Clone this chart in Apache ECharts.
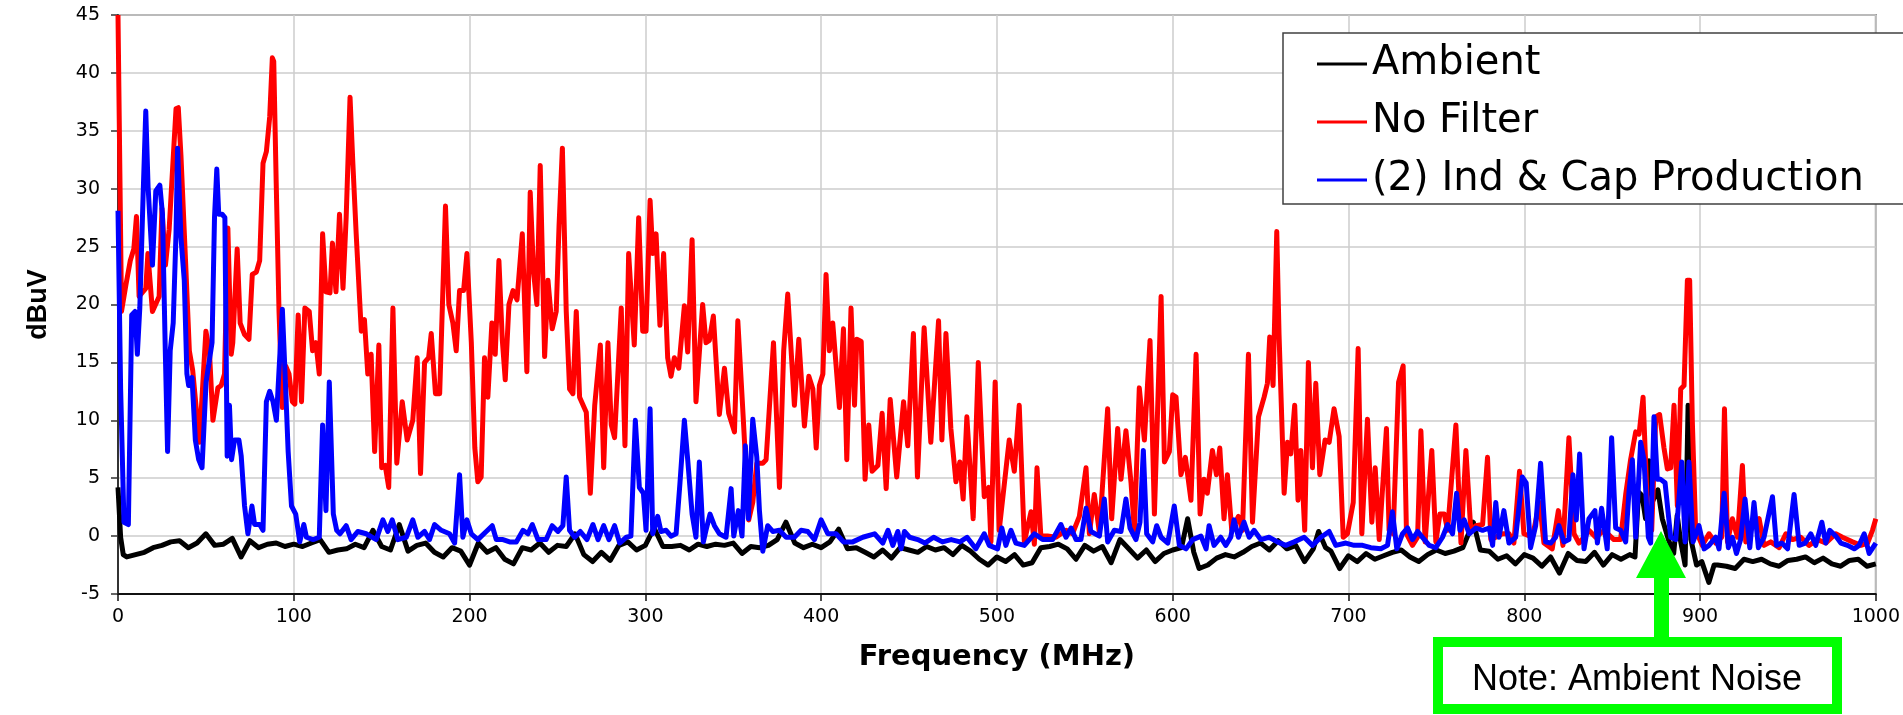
<!DOCTYPE html>
<html>
<head>
<meta charset="utf-8">
<title>Radiated emissions scan</title>
<script src="https://cdn.jsdelivr.net/npm/echarts/dist/echarts.min.js"></script>
<style>
	html, body { margin:0; padding:0; background:#ffffff; }
	#chart { width:1903px; height:715px; }
</style>
</head>
<body>
<div id="chart"></div>
<script>
// legend order = draw order (last one ends up on top)
var seriesNames = ['Ambient', 'No Filter', '(2) Ind & Cap Production'];
var seriesColors = ['#000000', '#ff0000', '#0000ff'];

// axis ranges [min, max, step]
var freqAxis = [0, 1000, 100];
var levelAxis = [-5, 45, 5];

// [MHz, dBuV]
var ambient = [
	[0,4.2],[1.5,-0.1],[3,-1.6],[5,-1.8],[10,-1.6],[15,-1.4],[20,-1.0],[25,-0.8],[30,-0.5],[35,-0.4],
	[40,-1.0],[45,-0.6],[50,0.2],[55,-0.8],[60,-0.7],[65,-0.2],[70,-1.8],[75,-0.4],[80,-1.0],[85,-0.7],
	[90,-0.6],[95,-0.9],[100,-0.7],[105,-0.9],[110,-0.6],[115,-0.3],[120,-1.4],[125,-1.2],[130,-1.1],[135,-0.7],
	[140,-1.0],[145,0.5],[150,-0.9],[155,-1.2],[160,1.0],[165,-1.3],[170,-0.8],[175,-0.6],[180,-1.4],[185,-1.8],
	[190,-1.0],[195,-1.3],[200,-2.5],[205,-0.6],[210,-1.4],[215,-1.0],[220,-2.0],[225,-2.4],[230,-1.0],[235,-1.2],
	[240,-0.6],[245,-1.4],[250,-0.8],[255,-0.9],[260,0.2],[265,-1.6],[270,-2.2],[275,-1.4],[280,-2.1],[285,-0.8],
	[290,-0.5],[295,-1.2],[300,-0.8],[305,0.7],[310,-0.9],[315,-0.9],[320,-0.8],[325,-1.2],[330,-0.7],[335,-0.9],
	[340,-0.7],[345,-0.8],[350,-0.6],[355,-1.5],[360,-0.9],[365,-1.0],[370,-0.8],[375,-0.3],[380,1.2],[385,-0.6],
	[390,-1.0],[395,-0.7],[400,-1.0],[405,-0.5],[410,0.6],[415,-1.1],[420,-1.0],[425,-1.4],[430,-1.8],[435,-1.2],
	[440,-1.9],[445,-1.0],[450,-1.2],[455,-1.4],[460,-0.9],[465,-1.2],[470,-1.0],[475,-1.6],[480,-0.8],[485,-1.3],
	[490,-2.0],[495,-2.5],[500,-1.8],[505,-2.2],[510,-1.6],[515,-2.5],[520,-2.3],[525,-1.0],[530,-0.9],[535,-0.7],
	[540,-1.1],[545,-2.0],[550,-0.8],[555,-1.3],[560,-0.9],[565,-2.3],[570,-0.3],[575,-1.1],[580,-1.9],[585,-1.2],
	[590,-2.2],[595,-1.5],[600,-1.2],[605,-1.0],[608.5,1.5],[612,-1.4],[615,-2.8],[620,-2.5],[625,-1.9],[630,-1.6],
	[635,-1.8],[640,-1.4],[645,-0.9],[650,-0.6],[655,-1.2],[660,-0.4],[665,-1.1],[670,-0.8],[675,-2.2],[680,-1.1],
	[683,0.4],[687,-1.0],[690,-1.3],[695,-2.8],[700,-1.7],[705,-2.2],[710,-1.5],[715,-2.0],[720,-1.7],[725,-1.4],
	[730,-1.2],[735,-1.8],[740,-2.2],[745,-1.6],[750,-1.2],[755,-1.5],[760,-1.3],[765,-1.0],[771,1.2],[775,-1.2],
	[780,-1.3],[785,-2.0],[790,-1.7],[795,-2.4],[800,-1.6],[805,-1.9],[810,-2.6],[815,-1.8],[820,-3.2],[825,-1.5],
	[830,-2.1],[835,-2.2],[840,-1.4],[845,-2.5],[850,-1.6],[855,-2.0],[860,-1.6],[863,-1.8],[865,3.8],[867,3.5],
	[869,1.5],[871,6.5],[873,3.0],[876,4.0],[878.5,1.5],[882,-0.3],[885,-1.5],[887,1.8],[889,-0.5],[891.5,-2.5],
	[893.2,11.3],[894.8,-0.3],[898,-2.5],[901,-2.2],[905,-4.0],[908,-2.5],[910,-2.5],[915,-2.6],[920,-2.8],[925,-2.0],
	[930,-2.2],[935,-2.0],[940,-2.4],[945,-2.6],[950,-2.1],[955,-2.0],[960,-1.8],[965,-2.3],[970,-1.9],[975,-2.4],
	[980,-2.6],[985,-2.1],[990,-2.0],[995,-2.6],[1000,-2.4]
];

var noFilter = [
	[0,45],[2,19.4],[4.5,21.7],[7,23.8],[9,24.8],[10.5,27.6],[12,20.7],[15.8,21.4],[17,24.4],[19.6,19.4],
	[23.4,20.7],[25,28.3],[27,23.4],[29.1,26.5],[33,36.9],[34.3,37],[35.8,32.9],[38.7,22.8],[40.6,16],[42.5,14.3],
	[46.3,8.1],[50,17.7],[52,16],[54,10],[56.8,12.8],[58.7,13],[60.6,14],[62.5,26.6],[64.4,15.7],[65.3,16.7],
	[67.8,24.8],[69.5,18.4],[72,17.4],[74.5,17],[76.4,22.6],[78.7,22.8],[80.6,23.8],[82.5,32.2],[84.4,33.2],[86.3,36.2],
	[87.8,41.3],[88.6,41],[90,30.5],[91.6,19.4],[93.5,11.1],[95.4,14.7],[97.3,14],[99.2,11.6],[100.6,11.4],[102.5,19.1],
	[104.4,11.6],[106.3,19.7],[108.8,19.4],[110.7,16],[112.6,16.7],[114.5,14],[116.4,26.1],[118.3,21.1],[120.6,21],[122,25.3],
	[124,21.1],[126,27.8],[128,21.4],[129.8,27.5],[132,37.9],[133.6,32.2],[135.5,26.1],[138.4,17.7],[140.2,18.7],[142.1,14],
	[144,15.7],[146,7.3],[148.4,16.5],[150,5.9],[152,6.1],[154,4.2],[156.4,19.7],[158.6,6.3],[161.7,11.6],[164.5,8.3],
	[167.7,10],[170.2,15.4],[172.1,5.4],[174.4,15],[176.7,15.4],[178.2,17.5],[180.6,12.3],[183,12.3],[186.3,28.5],[188.2,20],
	[190.5,18.4],[192.4,16],[194.3,21.2],[196.6,21.2],[198.5,24.4],[201,16.7],[203,7.6],[204.7,4.7],[206.6,5.1],[208.5,15.4],
	[210.4,12],[212.7,18.4],[214.6,15.7],[216.7,23.8],[218.6,17],[220.3,13.5],[222.4,20],[224.7,21.2],[227,20.4],[230,26.1],
	[232.6,14.2],[234.5,29.7],[236.4,22.8],[238.3,20],[240.2,32],[242.7,15.5],[244.6,22.1],[247,17.9],[249.3,19.4],[250.9,26.8],
	[252.8,33.5],[255,19.4],[256.9,12.7],[258.8,12.3],[260.7,19.4],[262.6,12],[265.5,11],[266.4,10.7],[268.7,3.7],[271.2,11.3],
	[274.4,16.5],[276.3,5.9],[278.7,16.7],[280.6,9.6],[282.5,8.5],[286.3,19.7],[288.4,7.8],[290.5,24.4],[293.7,16.5],[296.2,27.5],
	[298.5,17.7],[300.4,17.7],[302.7,29],[304.2,24.4],[306.1,26.1],[308.3,18.2],[310.4,24.4],[312.7,15.4],[314.6,13.8],[316.5,15.4],
	[319,14.5],[322.2,19.9],[324.1,15.9],[326.6,25.6],[328.8,11.6],[332.6,20],[334.5,16.7],[336.4,16.9],[338.7,19],[342.1,10.5],
	[345,14.5],[347.4,10.6],[350.7,9],[352.6,18.6],[355.4,11],[358.8,1.4],[361.1,2.9],[363.4,6.3],[366.8,6.3],[368.7,6.6],
	[372.9,16.7],[376.3,4.2],[378.7,16],[381,20.9],[384.8,11.3],[387.3,17],[390.5,9.5],[393,13.8],[395.3,12.7],[397.2,7.6],
	[399,13],[401,14],[402.8,22.6],[404.7,16],[406.6,18.4],[410.4,11.1],[412.7,17.9],[414.6,6.6],[417,19.7],[419,11.3],
	[420.3,17],[422.8,16.8],[425,4.9],[427.1,9.6],[429,5.6],[432.3,6.1],[434.7,10.6],[437,4.1],[439.3,11.8],[443,5.1],
	[446.9,11.6],[449.3,7.8],[452.5,17.5],[454.8,5.1],[458.6,18],[462.4,8.1],[466.8,18.6],[468.7,8.3],[471,17.5],[473.8,9.3],
	[476.7,4.7],[478.9,6.4],[480.8,3.2],[482.9,10.3],[486.5,1.5],[489.4,15],[492.8,3.4],[495.3,4.2],[496.6,-0.5],[499,13.3],
	[501.3,0.5],[507,8.3],[509.9,5.6],[512.7,11.3],[515.6,-0.5],[519.4,2.1],[521.3,-0.7],[522.8,5.9],[525,0],[528.8,0],
	[533.6,-0.1],[539.3,0.5],[543,0.2],[546.9,1.7],[550.7,5.9],[552.6,0.2],[555.4,3.6],[558.3,0.3],[563,11],[565.3,1.5],
	[568.7,9.3],[570.6,4.9],[573.4,9.1],[576.3,4.6],[578.2,0.5],[581,12.8],[583.9,8.3],[587.1,16.9],[589.6,1.9],[593.4,20.7],
	[595.3,6.4],[598.1,7.3],[600,12.2],[601.9,12],[604.7,5.3],[607.2,6.8],[610.4,3.1],[613.3,15.7],[615.6,1.9],[617.8,4.9],
	[619.7,3.7],[622.6,7.4],[624.9,5.3],[626.8,7.6],[629.2,1.5],[631.1,5.3],[633.6,0.5],[637.4,1.7],[639.7,0.5],[643.1,15.7],
	[645.4,1.2],[648.8,10.3],[652,12],[653.9,13.2],[655.2,17.2],[657.1,13],[659.2,26.3],[660.5,17.4],[663.4,3.7],[665.3,8.1],
	[667.2,7.1],[669.4,11.3],[671.3,3.1],[672.9,7.4],[675.1,0.5],[677.2,15],[679.5,5.9],[681.4,13.2],[683.7,5.3],[686.7,8.3],
	[689,8.1],[691.8,11],[694.7,8.6],[697,-0.1],[699.4,0.2],[702.7,2.9],[705.5,16.2],[707.6,0.2],[710.8,10.1],[713.3,1.2],
	[715.2,5.9],[717.5,-0.3],[721.6,9.3],[723.1,0.5],[725.4,0.2],[728.5,13.3],[731.1,14.7],[733,0.2],[736.4,-0.8],[739.3,-0.1],
	[741.2,9.1],[743.6,-0.5],[747.4,7.4],[749.7,-0.5],[752,1.9],[754.5,1.9],[756.4,0.5],[761.1,9.6],[764,-0.6],[766.8,7.4],
	[769.6,0.5],[772.5,0.9],[776.3,1.0],[779.1,6.8],[781,-0.3],[783.7,-0.1],[787.5,0.2],[791.3,0.2],[794.1,-0.6],[797.3,5.6],
	[799.8,0.2],[804.6,-0.1],[808.7,2.9],[811.2,-0.6],[815.9,-1.1],[819.4,2.2],[822,-0.8],[825.4,8.5],[828.3,0.2],[831.1,-0.6],
	[834,-0.1],[836.8,0.5],[840.6,-0.1],[845.4,0.5],[851,-0.3],[854.8,-0.3],[857.7,3.6],[860.5,6.6],[863.4,9],[865.3,8.8],
	[867.6,12],[870,2.6],[872.5,0.5],[874.8,10.3],[877,10.5],[879.5,7.6],[881.4,5.8],[883.3,5.9],[885.2,11.3],[887.1,2.6],
	[889,12.7],[890.9,13],[892.8,22.1],[894.1,22.1],[895.6,10],[897.5,0.5],[901.3,-0.8],[905.1,0.2],[908.9,-0.6],[912.3,-0.1],
	[913.9,11],[915.6,-0.5],[918.4,1.5],[921.3,-0.1],[924.1,6.1],[926,-0.5],[929.8,0.9],[933.6,1.5],[936.4,-0.8],[940.2,-0.5],
	[945,-1],[948.8,0.2],[952.6,-0.3],[957.3,-0.1],[962,-0.8],[966.8,-0.3],[971.5,-0.6],[977.2,0.2],[981,-0.1],[986.7,-0.5],
	[991.5,-0.8],[995.3,-0.6],[998.1,0.5],[1000,1.5]
];

var indCap = [
	[0,28.1],[1.5,12.7],[3.4,1.2],[5.9,1],[7.8,19.1],[9.7,19.4],[11,15.7],[12.4,19.7],[14.3,29.5],[15.8,36.7],
	[17.1,30.2],[19.6,23.4],[21.5,29.8],[23.8,30.3],[25.3,27.8],[26.9,16],[28.2,7.3],[29.7,16],[31.4,18.4],[33,26.1],
	[33.9,33.5],[35.8,25.8],[37.7,22.1],[39.2,14],[40.2,13],[42.1,13.7],[44,8.3],[45.9,6.6],[47.8,5.9],[50.1,13.3],
	[53.5,16.7],[54.9,27.5],[56.2,31.7],[57.3,27.8],[59.2,27.8],[60.8,27.5],[62.1,6.9],[63.4,11.3],[64.6,6.6],[66.3,8.3],
	[68.8,8.3],[70.1,6.9],[72,2.6],[73.9,0.2],[76.2,2.6],[77.7,1],[80.6,1],[82.5,0.5],[84.4,11.6],[86.3,12.5],
	[88.2,11.6],[90.1,10],[91.6,14.3],[93.5,19.6],[95.4,12.7],[96.8,7.3],[98.7,2.6],[101.1,1.9],[103.4,-0.5],[105.7,1],
	[107.2,-0.1],[111,-0.3],[114.5,-0.1],[116.4,9.6],[118.3,2.2],[120.2,13.3],[122.5,1.9],[124.4,0.5],[126.3,0.2],[129.8,0.9],
	[132.6,-0.3],[136.4,0.4],[141.2,0.2],[146.9,-0.3],[150.7,1.4],[153.5,0.4],[156,1.4],[159.2,-0.3],[164,-0.1],[167.7,1.4],
	[170.6,-0.1],[174.4,0.4],[177.2,-0.3],[180.1,1],[183.9,0.5],[188.6,0.2],[191.5,-0.6],[194.3,5.3],[196.2,-0.1],[198.5,1.4],
	[201,0.2],[204.7,-0.3],[209.5,0.4],[212.9,0.9],[215.2,-0.3],[219,-0.3],[222.8,-0.5],[226.6,-0.5],[230.4,0.5],[233.2,0.2],
	[235.7,1],[238.9,-0.3],[243.6,-0.3],[247,0.9],[250.3,0.4],[253.1,0.9],[255,5.1],[256.9,0.5],[259.8,-0.1],[263,0.4],
	[266.8,-0.3],[270.2,1],[273.1,-0.3],[276.3,0.9],[279.3,-0.3],[282.5,0.9],[285.4,-0.6],[289.2,-0.1],[291.8,0],[294.3,10],
	[296.6,4.2],[298.9,3.7],[300.4,0.5],[302.7,11],[304.2,0.2],[307,1.7],[308.9,0.4],[311.8,0.5],[314.6,0],[317.5,0.2],
	[319.7,4.6],[322.2,10],[324.1,6.6],[326.6,1.9],[328.8,-0.1],[330.7,6.4],[333,-0.5],[334.5,0.5],[336.8,1.9],[339.3,0.9],
	[342.1,0.2],[345.9,-0.1],[348.8,4.1],[350.3,0],[352.9,2.2],[355,0],[356.9,7.8],[358.6,1.5],[361.1,10.1],[363.4,6.8],
	[364.9,2.2],[366.8,-1.3],[369.6,0.9],[372.5,0.4],[376.3,0.5],[380.1,-0.1],[384.8,-0.1],[388.6,0.5],[392.4,0.4],[396.2,-0.3],
	[400,1.4],[403.8,0.2],[408.5,0.2],[412.7,-0.5],[418,-0.5],[423.7,-0.1],[430.4,0.2],[435.1,-0.6],[438,0.5],[440.8,-0.8],
	[443.6,0.4],[445.5,-1.1],[447.4,0.4],[450.3,-0.1],[455,-0.3],[459,-0.6],[464,-0.1],[469,-0.5],[474,-0.3],[479,-0.5],
	[483,-0.1],[488,-1.1],[492.8,0.2],[495.6,-0.8],[500.4,-1.1],[502.8,0.7],[505.1,-0.8],[508,0.5],[510.8,-0.6],[515.6,-0.8],
	[521.3,0.2],[526,-0.3],[531.7,-0.3],[536.4,1],[539.3,-0.1],[542.2,0.7],[545,-0.3],[547.8,-0.3],[550.7,2.4],[553.5,0.4],
	[558.3,0],[561.1,3.2],[563,-0.5],[566.8,0.5],[570.6,0.4],[573.4,3.2],[575.7,0.7],[579.1,-0.3],[581.4,1.2],[583.3,7.4],
	[585.2,0.2],[588.6,-0.5],[590.9,0.9],[593.4,-0.1],[597.2,-0.6],[600.9,2.6],[603.8,-0.8],[607.6,-1.1],[611.4,-0.3],[616.1,0],
	[619,-1.1],[620.7,0.9],[623.5,-0.8],[627.3,-0.1],[630.2,-0.8],[633,-0.1],[634.9,1.4],[637.4,-0.1],[640.6,1.2],[643.5,-0.1],
	[646.3,0.5],[650.1,-0.3],[654.8,-0.1],[659.6,-0.5],[664.3,-0.8],[669.1,-0.5],[674.8,-0.1],[679.5,-0.8],[684.3,-0.1],[689,0.4],
	[692.8,-0.8],[698.5,-0.6],[703.2,-0.8],[708,-0.8],[712.7,-1],[718.4,-1.1],[722.2,-0.8],[725,2.1],[727.5,-1.1],[730.7,0.2],
	[733.6,0.7],[736.4,-0.3],[739.3,0.4],[742.1,-0.1],[745.9,-0.8],[749.7,-1],[753.5,-0.1],[756.4,1],[759.2,0.2],[761.5,3.7],
	[763.4,0.5],[765.8,1.4],[768.7,0.2],[772.5,0.7],[776.3,0.5],[780.1,0.7],[782,-0.8],[783.8,2.9],[785.6,-0.1],[788.4,2.2],
	[791.3,-0.6],[795.1,-0.1],[798.9,5.1],[801.1,4.6],[803.6,-1],[806.5,0.9],[809.3,6.3],[812.1,-0.5],[815,-0.6],[817.8,-0.1],
	[819.7,0.9],[822.6,-0.5],[825.4,-0.3],[827.7,5.3],[829.6,1.4],[831.5,7.1],[834,-1.1],[836.8,1.5],[840.2,2.2],[841.6,-0.6],
	[844,2.4],[847.2,-1.1],[849.7,8.5],[852,0.7],[854.8,0.5],[857.7,-0.5],[859.6,3.9],[861.5,6.6],[863.4,-0.1],[866.2,8.1],
	[868.1,6.6],[870.6,-0.1],[871.9,-0.6],[873.8,10.3],[875.7,4.9],[877.6,4.9],[880.1,4.6],[883.3,-0.1],[886.2,-0.3],[889.6,6.4],
	[891.5,-0.5],[893.7,6.4],[896,-0.5],[899.4,0.9],[902.3,-1.1],[905.1,-0.8],[908.9,-0.1],[910.8,-1.1],[913.7,3.7],[916.1,-1],
	[918.4,-0.1],[920.7,-1.5],[923.1,-0.3],[925.6,3.2],[928.3,-1],[930.7,2.9],[933.2,-1],[936.4,-0.1],[941.2,3.4],[943.5,-0.8],
	[946.5,-0.6],[949.8,-1.1],[953.5,3.6],[956.4,-0.8],[959.8,-0.6],[963,0.2],[965.8,-0.8],[969.3,1.2],[971.5,-0.6],[973.8,0.5],
	[977.2,0],[980.1,-0.6],[983.9,-0.8],[987.7,-1.1],[990.5,-0.8],[993.4,0.2],[996.2,-1.5],[1000,-0.6]
];

var noteText = 'Note: Ambient Noise';

var tickFont = 'DejaVu Sans';
var seriesData = [ambient, noFilter, indCap];

var myChart = echarts.init(document.getElementById('chart'));

var option = {
	animation : false,
	backgroundColor : '#ffffff',
	grid : {
		left : 118,
		right : 25,
		top : 15,
		bottom : 121,
		show : true,
		borderColor : '#858585',
		borderWidth : 2
	},
	legend : {
		orient : 'vertical',
		left : 1283,
		top : 33,
		padding : [9, 200, 2, 34],
		backgroundColor : '#ffffff',
		borderColor : '#404040',
		borderWidth : 1.5,
		itemWidth : 50,
		itemHeight : 3,
		itemGap : 14,
		icon : 'rect',
		data : seriesNames,
		textStyle : {
			fontFamily : 'DejaVu Sans',
			fontSize : 40,
			lineHeight : 44,
			color : '#000000'
		},
		z : 20
	},
	xAxis : {
		type : 'value',
		min : freqAxis[0],
		max : freqAxis[1],
		interval : freqAxis[2],
		name : 'Frequency (MHz)',
		nameLocation : 'middle',
		nameGap : 49,
		nameTextStyle : {
			fontFamily : 'DejaVu Sans',
			fontWeight : 'bold',
			fontSize : 29,
			color : '#000000'
		},
		axisLine : {
			onZero : false,
			lineStyle : { color : '#111111', width : 2 }
		},
		axisTick : {
			show : true,
			length : 7,
			lineStyle : { color : '#111111', width : 1.5 }
		},
		axisLabel : {
			fontFamily : tickFont,
			fontSize : 19,
			color : '#000000',
			margin : 14,
			formatter : function(v){ return String(v); }
		},
		splitLine : {
			show : true,
			lineStyle : { color : '#cccccc', width : 1.5 }
		}
	},
	yAxis : {
		type : 'value',
		min : levelAxis[0],
		max : levelAxis[1],
		interval : levelAxis[2],
		name : 'dBuV',
		nameLocation : 'middle',
		nameGap : 66,
		nameRotate : 90,
		nameTextStyle : {
			fontFamily : 'Liberation Sans',
			fontWeight : 'bold',
			fontSize : 27,
			color : '#000000'
		},
		axisLine : {
			show : true,
			onZero : false,
			lineStyle : { color : '#333333', width : 2 }
		},
		axisTick : {
			show : true,
			length : 7,
			lineStyle : { color : '#333333', width : 1.5 }
		},
		axisLabel : {
			fontFamily : tickFont,
			fontSize : 19,
			color : '#000000',
			margin : 18
		},
		splitLine : {
			show : true,
			lineStyle : { color : '#cccccc', width : 1.5 }
		}
	},
	series : seriesNames.map(function(name, i){
		return {
			name : name,
			type : 'line',
			data : seriesData[i],
			color : seriesColors[i],
			showSymbol : false,
			symbol : 'none',
			clip : true,
			lineStyle : { color : seriesColors[i], width : 5, join : 'round' },
			z : 2 + i
		};
	}),
	graphic : [
		{
			// arrow pointing at the ambient bump near 880 MHz
			type : 'polygon',
			z : 30,
			shape : {
				points : [[1661, 531], [1686, 578], [1669, 578], [1669, 640], [1654, 640], [1654, 578], [1636, 578]]
			},
			style : { fill : '#00ff00' }
		},
		{
			type : 'rect',
			z : 31,
			shape : { x : 1438, y : 642, width : 399, height : 67 },
			style : { fill : '#ffffff', stroke : '#00ff00', lineWidth : 10 }
		},
		{
			type : 'text',
			z : 32,
			x : 1637,
			y : 680,
			style : {
				text : noteText,
				fill : '#000000',
				font : '36px "Liberation Sans", Arial, sans-serif',
				align : 'center',
				verticalAlign : 'middle'
			}
		}
	]
};

myChart.setOption(option);
</script>
</body>
</html>
